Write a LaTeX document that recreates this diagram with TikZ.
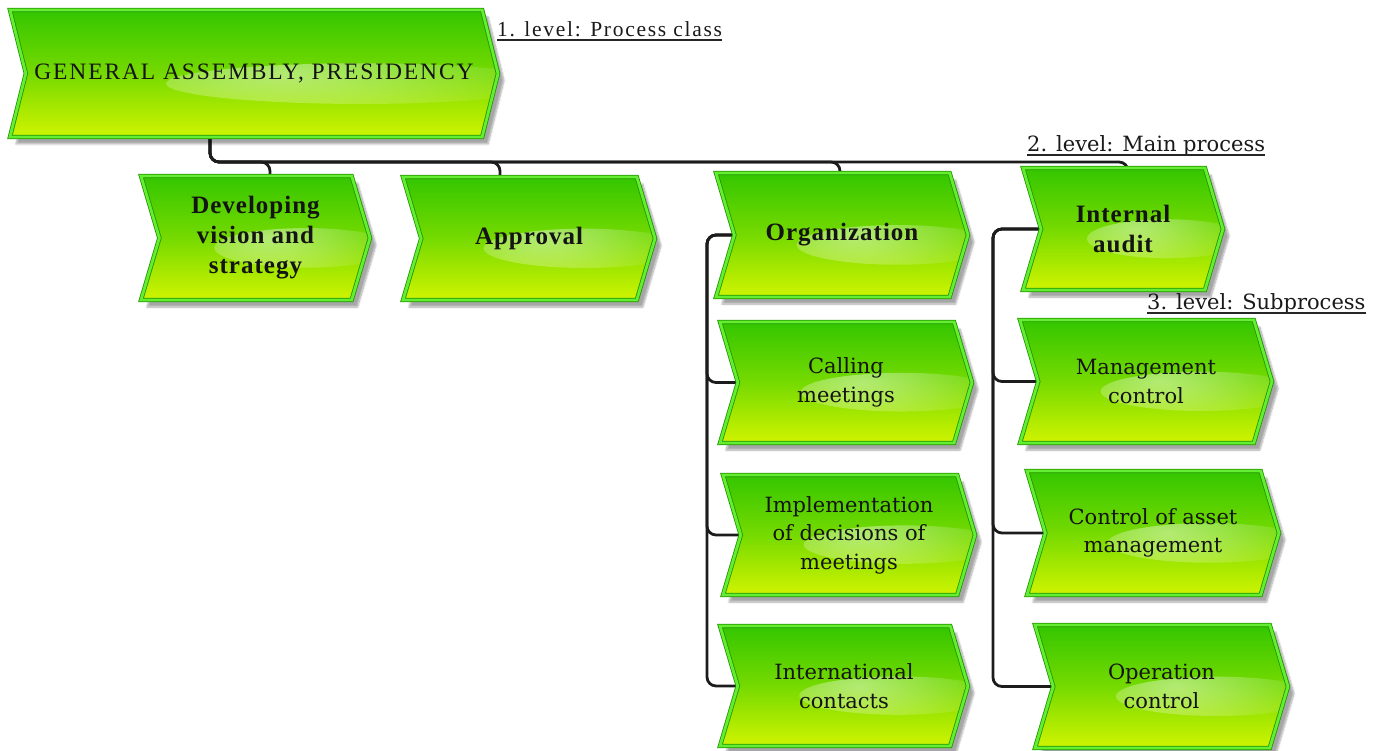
\documentclass[tikz,border=0pt]{standalone}
\usepackage{fontspec}
\setmainfont{Liberation Serif}
\newfontfamily\wideserif{DejaVu Serif}
\usetikzlibrary{shapes.symbols,shadows.blur,fadings,backgrounds,calc}

\definecolor{procTop}{RGB}{52,198,0}
\definecolor{procMid}{RGB}{118,218,0}
\definecolor{procBot}{RGB}{208,244,0}
\definecolor{procEdge}{RGB}{36,148,0}
\definecolor{procRim}{RGB}{100,238,50}
\definecolor{wire}{RGB}{28,28,28}

\tikzfading[name=glossfade, inner color=transparent!0, outer color=transparent!100]

\tikzset{
  proc/.style={signal, signal from=west, signal to=east, signal pointer angle=147,
    inner sep=0pt, align=center, text=black!92,
    draw=procEdge, line width=0.8pt, double=procRim, double distance=2.8pt,
    top color=procTop, bottom color=procBot, middle color=procMid,
    blur shadow={shadow xshift=6pt, shadow yshift=-7pt, shadow opacity=35, shadow blur steps=8},
    path picture={
      \path let \p1=(path picture bounding box.south west),
                \p2=(path picture bounding box.north east) in
        [fill=white, opacity=0.45, path fading=glossfade]
        ({0.28*\x1+0.72*\x2},{0.58*\y1+0.42*\y2})
        ellipse ({0.40*(\x2-\x1)} and {0.16*(\y2-\y1)});
    }},
  mainproc/.style={proc, font=\fontsize{25}{30}\selectfont\bfseries\addfontfeature{LetterSpace=4}},
  subproc/.style={proc, font=\fontsize{21}{28.5}\selectfont\wideserif},
  lvl/.style={inner sep=0pt, anchor=base west, text=black!90},
  uline/.style={line width=1.3pt, black!85},
  conn/.style={draw=wire, line width=2.8pt, rounded corners=9pt}
}

\begin{document}
\begin{tikzpicture}[x=1pt, y=-1pt]
\useasboundingbox (0,0) rectangle (1376,751);

% process class
\node[proc, signal pointer angle=152, minimum width=488pt, minimum height=127pt,
      font=\fontsize{23.5}{27}\selectfont\addfontfeature{LetterSpace=8}]
  (gen) at (254,73.5) {GENERAL ASSEMBLY, PRESIDENCY};

% main processes
\node[mainproc, minimum width=229pt, minimum height=124pt] (dev)  at (255.5,238) {Developing\\vision and\\strategy};
\node[mainproc, minimum width=252pt, minimum height=123pt] (appr) at (529,238.5) {Approval};
\node[mainproc, minimum width=252pt, minimum height=124pt] (org)  at (842,235) {Organization};
\node[mainproc, minimum width=200pt, minimum height=122pt] (aud)  at (1123,229) {Internal\\audit};

% subprocesses of Organization
\node[subproc, minimum width=252pt, minimum height=121pt] (call) at (846,382.5) {Calling\\meetings};
\node[subproc, minimum width=252pt, minimum height=120pt] (impl) at (849,535) {Implementation\\of decisions of\\meetings};
\node[subproc, minimum width=248pt, minimum height=120pt] (intl) at (844,686) {International\\contacts};

% subprocesses of Internal audit
\node[subproc, minimum width=252pt, minimum height=123pt] (mgmt)  at (1146,381.5) {Management\\control};
\node[subproc, minimum width=252pt, minimum height=124pt] (asset) at (1153,533) {Control of asset\\management};
\node[subproc, minimum width=253pt, minimum height=123pt] (oper)  at (1161.5,686.5) {Operation\\control};

% level captions
\node[lvl, font=\fontsize{21.5}{24}\selectfont\addfontfeature{LetterSpace=8}] (l1) at (497,37) {1. level: Process class};
\node[lvl, font=\fontsize{21}{24}\selectfont\wideserif] (l2) at (1027,152) {2. level: Main process};
\node[lvl, font=\fontsize{21}{24}\selectfont\wideserif] (l3) at (1147,310) {3. level: Subprocess};
\foreach \l in {l1,l2,l3}
  \draw[uline] ([yshift=-3pt]\l.base west) -- ([yshift=-3pt]\l.base east);

% connectors
\begin{pgfonlayer}{background}
  \coordinate (hub) at ([xshift=-44pt]gen.center);
  \coordinate (bus) at (0,162);
  \coordinate (devIn)  at ([xshift=14.5pt]dev.center);
  \coordinate (apprIn) at ([xshift=-29pt]appr.center);
  \coordinate (orgIn)  at ([xshift=-2pt]org.center);
  \coordinate (audIn)  at ([xshift=5pt]aud.center);
  \foreach \t in {devIn,apprIn,orgIn,audIn}
    \draw[conn] (hub) |- (bus -| \t) -- (\t);

  \coordinate (ospine) at (707,0);
  \foreach \t in {call,impl,intl}
    \draw[conn] (org.center) -| (ospine |- \t.center) -- (\t.center);

  \coordinate (aspine) at (993,0);
  \foreach \t in {mgmt,asset,oper}
    \draw[conn] (aud.center) -| (aspine |- \t.center) -- (\t.center);
\end{pgfonlayer}
\end{tikzpicture}
\end{document}
